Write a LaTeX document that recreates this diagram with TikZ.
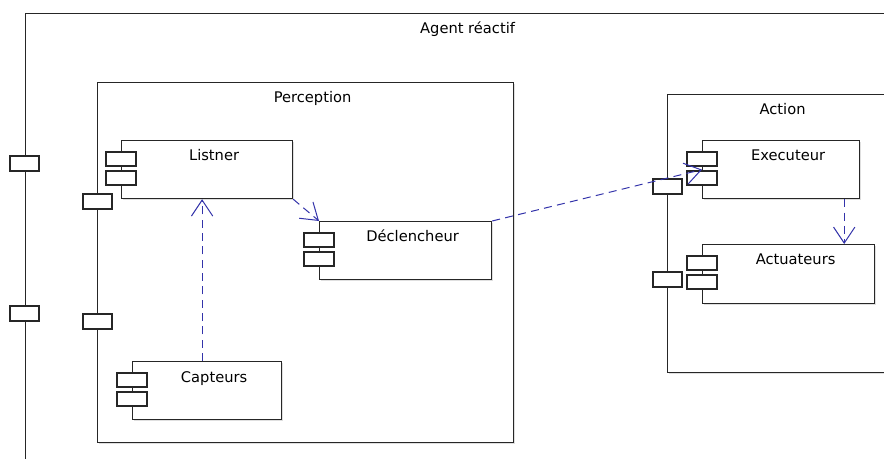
\documentclass[tikz,border=0pt]{standalone}
\usepackage{fontspec}
\setmainfont{DejaVu Sans}
\usetikzlibrary{calc,arrows.meta,shadows}
\definecolor{depblue}{RGB}{51,51,170}
\newcommand{\pxu}{0.75pt}
% the two little rectangles of a component symbol
\newcommand{\compicon}[1]{%
  \draw[icon] ($(#1.north west)+(-15,12)$) rectangle +(30,14);
  \draw[icon] ($(#1.north west)+(-15,31)$) rectangle +(30,14);}

\begin{document}
\begin{tikzpicture}
[x=0.75pt,y=-0.75pt,>=Straight Barb,font=\fontsize{11}{14}\selectfont,
box/.style = {draw=black!85, line width=0.9pt, fill=white, anchor=north west, inner sep=0,
  drop shadow={shadow xshift=0.8pt, shadow yshift=-0.8pt, opacity=0.25}},
title/.style = {anchor=base, yshift=-21*\pxu, xshift=#1*\pxu},
title/.default = 7,
icon/.style = {draw=black!85, line width=0.9pt, fill=white},
port/.style = {draw=black!85, line width=0.9pt, fill=white, inner sep=0,
  minimum width=29*\pxu, minimum height=15*\pxu,
  drop shadow={shadow xshift=0.8pt, shadow yshift=-0.8pt, opacity=0.25}},
dep/.style = {draw=depblue, line width=0.75pt, dash pattern=on 6pt off 4pt,
  -{Straight Barb[length=12pt,width=16pt]}},]
\clip (0,0) rectangle (884,459);
% containers
\node (agent) at (25,13)[box, minimum width=870*\pxu, minimum height=470*\pxu,
  label={[title]north:Agent réactif}] {};
\node (agentp1) at (24.5,163.5)[port] {};
\node (agentp2) at (24.5,313.5)[port] {};
\node (percep) at (97,82)[box, minimum width=416*\pxu, minimum height=360*\pxu,
  label={[title]north:Perception}] {};
\node (percepp1) at (97.5,201.5)[port] {};
\node (percepp2) at (97.5,321.5)[port] {};
\node (action) at (667,94)[box, minimum width=230*\pxu, minimum height=278*\pxu,
  label={[title=0]north:Action}] {};
\node (actionp1) at (667.5,186.5)[port] {};
\node (actionp2) at (667.5,279.5)[port] {};
% components
\node (listner) at (121,140)[box, minimum width=171*\pxu, minimum height=58*\pxu,
  label={[title]north:Listner}] {};
\node (decl) at (319,221)[box, minimum width=172*\pxu, minimum height=58*\pxu,
  label={[title]north:Déclencheur}] {};
\node (capteurs) at (132,361)[box, minimum width=149*\pxu, minimum height=58*\pxu,
  label={[title]north:Capteurs}] {};
\node (exec) at (702,140)[box, minimum width=157*\pxu, minimum height=58*\pxu,
  label={[title]north:Executeur}] {};
\node (actu) at (702,244)[box, minimum width=172*\pxu, minimum height=59*\pxu,
  label={[title]north:Actuateurs}] {};
\compicon{listner}
\compicon{decl}
\compicon{capteurs}
\compicon{exec}
\compicon{actu}
% dependencies
\draw[dep] ([xshift=-5*\pxu]capteurs.north) -- ([xshift=-5*\pxu]capteurs.north |- listner.south);
\draw[dep] (listner.south east) -- (decl.north west);
\draw[dep] (decl.north east) -- (exec.west);
\draw[dep] ([xshift=-16*\pxu]exec.south east) -- ([xshift=-16*\pxu]exec.south east |- actu.north);
\end{tikzpicture}
\end{document}
